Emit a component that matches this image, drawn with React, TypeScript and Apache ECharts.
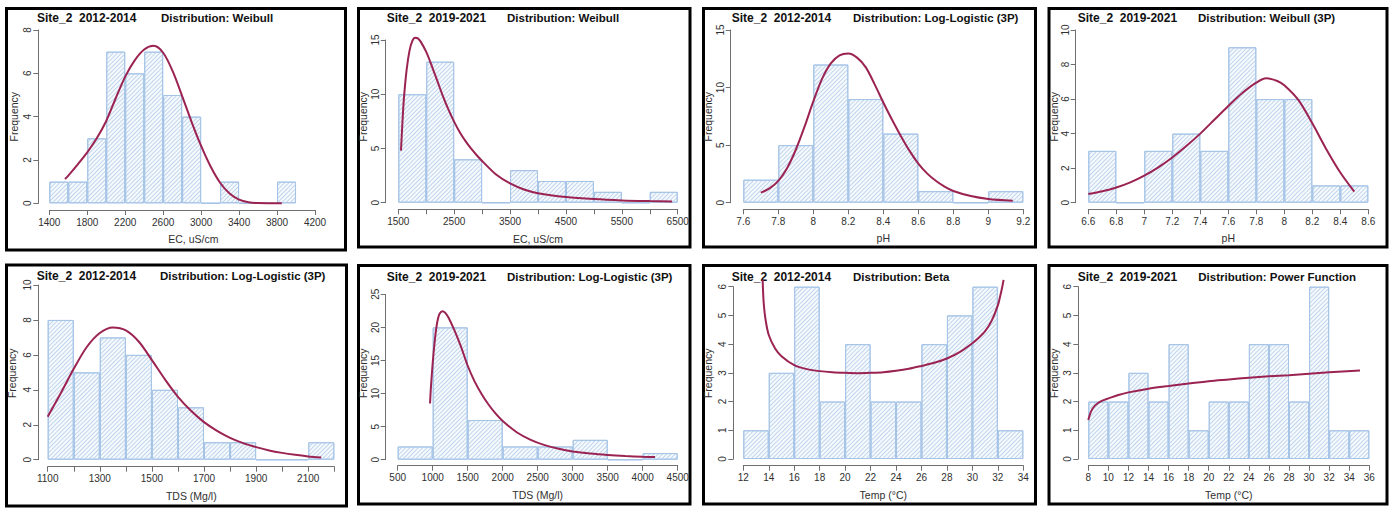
import { useEffect, useRef } from "react";
import * as echarts from "echarts";

// ---------- EC, Site_2 2012-2014 (Weibull) ----------
const ecEarlyEdges = [1400, 1600, 1800, 2000, 2200, 2400, 2600, 2800, 3000, 3200, 3400, 3600, 3800, 4000];
const ecEarlyCounts = [1, 1, 3, 7, 6, 7, 5, 4, 0, 1, 0, 0, 1];
const ecEarlyFit: [number, number][] = [
  [1565, 1.12], [1600, 1.28], [1700, 1.8], [1800, 2.35], [1900, 3.0], [2000, 3.8], [2100, 4.85],
  [2200, 5.85], [2300, 6.6], [2400, 7.1], [2500, 7.27], [2600, 6.95], [2700, 6.1], [2800, 4.95],
  [2900, 3.75], [3000, 2.65], [3100, 1.7], [3200, 0.95], [3300, 0.45], [3400, 0.17], [3500, 0.05],
  [3600, 0.01], [3850, 0],
];
const ecEarlyTicks = [1400, 1800, 2200, 2600, 3000, 3400, 3800, 4200];
const ecEarlyLabels = [1400, 1800, 2200, 2600, 3000, 3400, 3800, 4200];

// ---------- EC, Site_2 2019-2021 (Weibull) ----------
const ecLateEdges = [1500, 2000, 2500, 3000, 3500, 4000, 4500, 5000, 5500, 6000, 6500];
const ecLateCounts = [10, 13, 4, 0, 3, 2, 2, 1, 0, 1];
const ecLateFit: [number, number][] = [
  [1548, 4.8], [1575, 7.5], [1600, 9.6], [1650, 12.3], [1700, 14.0], [1750, 14.9], [1800, 15.2],
  [1850, 15.15], [1900, 14.85], [2000, 13.9], [2100, 12.6], [2200, 11.2], [2300, 9.8], [2400, 8.55],
  [2500, 7.45], [2600, 6.5], [2700, 5.7], [2800, 5.0], [2900, 4.4], [3000, 3.85], [3250, 2.6],
  [3500, 1.78], [3750, 1.22], [4000, 0.88], [4500, 0.53], [5000, 0.33], [5500, 0.21], [6000, 0.15],
  [6400, 0.12],
];
const ecLateTicks = [1500, 2000, 2500, 3000, 3500, 4000, 4500, 5000, 5500, 6000, 6500];
const ecLateLabels = [1500, 2500, 3500, 4500, 5500, 6500];

// ---------- pH, Site_2 2012-2014 (Log-Logistic 3P) ----------
const phEarlyEdges = [7.6, 7.8, 8.0, 8.2, 8.4, 8.6, 8.8, 9.0, 9.2];
const phEarlyCounts = [2, 5, 12, 9, 6, 1, 0, 1];
const phEarlyFit: [number, number][] = [
  [7.7, 0.87], [7.75, 1.25], [7.8, 1.9], [7.85, 3.0], [7.9, 4.6], [7.95, 6.6], [8.0, 8.8],
  [8.05, 10.75], [8.1, 12.1], [8.15, 12.8], [8.2, 12.95], [8.25, 12.6], [8.3, 11.75], [8.35, 10.3],
  [8.4, 8.7], [8.45, 7.2], [8.5, 5.8], [8.55, 4.5], [8.6, 3.4], [8.65, 2.55], [8.7, 1.9], [8.75, 1.4],
  [8.8, 1.02], [8.9, 0.58], [9.0, 0.33], [9.14, 0.17],
];
const phEarlyTicks = [7.6, 7.8, 8, 8.2, 8.4, 8.6, 8.8, 9, 9.2];

// ---------- pH, Site_2 2019-2021 (Weibull 3P) ----------
const phLateEdges = [6.6, 6.8, 7.0, 7.2, 7.4, 7.6, 7.8, 8.0, 8.2, 8.4, 8.6];
const phLateCounts = [3, 0, 3, 4, 3, 9, 6, 6, 1, 1];
const phLateFit: [number, number][] = [
  [6.6, 0.5], [6.7, 0.66], [6.8, 0.88], [6.9, 1.18], [7.0, 1.57], [7.1, 2.05], [7.2, 2.62],
  [7.3, 3.28], [7.4, 4.0], [7.5, 4.8], [7.6, 5.6], [7.7, 6.35], [7.8, 6.95], [7.87, 7.2],
  [7.95, 7.05], [8.0, 6.8], [8.1, 5.95], [8.2, 4.6], [8.3, 3.1], [8.4, 1.75], [8.5, 0.64],
];
const phLateTicks = [6.6, 6.8, 7, 7.2, 7.4, 7.6, 7.8, 8, 8.2, 8.4, 8.6];

// ---------- TDS, Site_2 2012-2014 (Log-Logistic 3P) ----------
const tdsEarlyEdges = [1100, 1200, 1300, 1400, 1500, 1600, 1700, 1800, 1900, 2000, 2100, 2200];
const tdsEarlyCounts = [8, 5, 7, 6, 4, 3, 1, 1, 0, 0, 1];
const tdsEarlyFit: [number, number][] = [
  [1100, 2.46], [1150, 3.8], [1200, 5.2], [1250, 6.45], [1300, 7.25], [1350, 7.57], [1400, 7.4],
  [1450, 6.75], [1500, 5.7], [1550, 4.6], [1600, 3.6], [1650, 2.8], [1700, 2.15], [1750, 1.65],
  [1800, 1.25], [1850, 0.95], [1900, 0.72], [1950, 0.53], [2000, 0.39], [2050, 0.28], [2100, 0.19],
  [2150, 0.12],
];
const tdsEarlyTicks = [1100, 1200, 1300, 1400, 1500, 1600, 1700, 1800, 1900, 2000, 2100, 2200];
const tdsEarlyLabels = [1100, 1300, 1500, 1700, 1900, 2100];

// ---------- TDS, Site_2 2019-2021 (Log-Logistic 3P) ----------
const tdsLateEdges = [500, 1000, 1500, 2000, 2500, 3000, 3500, 4000, 4500];
const tdsLateCounts = [2, 20, 6, 2, 2, 3, 0, 1];
const tdsLateFit: [number, number][] = [
  [962, 8.5], [975, 11.0], [1000, 14.6], [1025, 17.5], [1050, 19.8], [1075, 21.3], [1100, 22.1],
  [1140, 22.45], [1180, 22.2], [1225, 21.5], [1300, 19.8], [1400, 17.2], [1500, 14.2], [1600, 11.8],
  [1700, 9.9], [1800, 8.3], [1900, 6.95], [2000, 5.85], [2200, 4.15], [2400, 3.0], [2600, 2.2],
  [2800, 1.65], [3000, 1.25], [3250, 0.92], [3500, 0.7], [3750, 0.55], [4000, 0.45], [4176, 0.4],
];
const tdsLateTicks = [500, 1000, 1500, 2000, 2500, 3000, 3500, 4000, 4500];

// ---------- Temp, Site_2 2012-2014 (Beta) ----------
const tempEarlyEdges = [12, 14, 16, 18, 20, 22, 24, 26, 28, 30, 32, 34];
const tempEarlyCounts = [1, 3, 6, 2, 4, 2, 2, 4, 5, 6, 1];
const tempEarlyFit: [number, number][] = [
  [13.52, 6.24], [13.6, 5.45], [13.75, 4.85], [14.0, 4.32], [14.5, 3.85], [15.0, 3.58], [16.0, 3.27],
  [17.0, 3.13], [18.0, 3.06], [19.0, 3.02], [20.0, 3.0], [21.0, 2.99], [22.0, 3.0], [23.0, 3.02],
  [24.0, 3.07], [25.0, 3.14], [26.0, 3.24], [27.0, 3.35], [28.0, 3.5], [29.0, 3.72], [30.0, 4.03],
  [30.5, 4.22], [31.0, 4.45], [31.5, 4.8], [32.0, 5.35], [32.2, 5.7], [32.35, 6.0], [32.45, 6.24],
];
const tempEarlyTicks = [12, 14, 16, 18, 20, 22, 24, 26, 28, 30, 32, 34];

// ---------- Temp, Site_2 2019-2021 (Power Function) ----------
const tempLateEdges = [8, 10, 12, 14, 16, 18, 20, 22, 24, 26, 28, 30, 32, 34, 36];
const tempLateCounts = [2, 2, 3, 2, 4, 1, 2, 2, 4, 4, 2, 6, 1, 1];
const tempLateFit: [number, number][] = [
  [8.0, 1.36], [8.27, 1.65], [8.66, 1.86], [9.33, 2.02], [10.0, 2.11], [11.0, 2.23], [12.0, 2.32],
  [14.0, 2.45], [16.0, 2.54], [18.0, 2.63], [20.0, 2.71], [22.0, 2.77], [24.0, 2.83], [26.0, 2.88],
  [28.0, 2.92], [30.0, 2.97], [32.0, 3.02], [35.07, 3.08],
];
const tempLateTicks = [8, 10, 12, 14, 16, 18, 20, 22, 24, 26, 28, 30, 32, 34, 36];

const siteEarly = "Site_2  2012-2014";
const siteLate = "Site_2  2019-2021";

type PanelData = {
  site: string;
  dist: string;
  xName: string;
  edges: number[];
  counts: number[];
  fit: [number, number][];
  xMin: number;
  xMax: number;
  ticks: number[];
  labels: number[];
  yMax: number;
  yStep: number;
};

const panelData: PanelData[] = [
  { site: siteEarly, dist: "Distribution: Weibull", xName: "EC, uS/cm", edges: ecEarlyEdges, counts: ecEarlyCounts, fit: ecEarlyFit, xMin: 1400, xMax: 4200, ticks: ecEarlyTicks, labels: ecEarlyLabels, yMax: 8, yStep: 2 },
  { site: siteLate, dist: "Distribution: Weibull", xName: "EC, uS/cm", edges: ecLateEdges, counts: ecLateCounts, fit: ecLateFit, xMin: 1500, xMax: 6500, ticks: ecLateTicks, labels: ecLateLabels, yMax: 15, yStep: 5 },
  { site: siteEarly, dist: "Distribution: Log-Logistic (3P)", xName: "pH", edges: phEarlyEdges, counts: phEarlyCounts, fit: phEarlyFit, xMin: 7.6, xMax: 9.2, ticks: phEarlyTicks, labels: phEarlyTicks, yMax: 15, yStep: 5 },
  { site: siteLate, dist: "Distribution: Weibull (3P)", xName: "pH", edges: phLateEdges, counts: phLateCounts, fit: phLateFit, xMin: 6.6, xMax: 8.6, ticks: phLateTicks, labels: phLateTicks, yMax: 10, yStep: 2 },
  { site: siteEarly, dist: "Distribution: Log-Logistic (3P)", xName: "TDS (Mg/l)", edges: tdsEarlyEdges, counts: tdsEarlyCounts, fit: tdsEarlyFit, xMin: 1100, xMax: 2200, ticks: tdsEarlyTicks, labels: tdsEarlyLabels, yMax: 10, yStep: 2 },
  { site: siteLate, dist: "Distribution: Log-Logistic (3P)", xName: "TDS (Mg/l)", edges: tdsLateEdges, counts: tdsLateCounts, fit: tdsLateFit, xMin: 500, xMax: 4500, ticks: tdsLateTicks, labels: tdsLateTicks, yMax: 25, yStep: 5 },
  { site: siteEarly, dist: "Distribution: Beta", xName: "Temp (°C)", edges: tempEarlyEdges, counts: tempEarlyCounts, fit: tempEarlyFit, xMin: 12, xMax: 34, ticks: tempEarlyTicks, labels: tempEarlyTicks, yMax: 6, yStep: 1 },
  { site: siteLate, dist: "Distribution: Power Function", xName: "Temp (°C)", edges: tempLateEdges, counts: tempLateCounts, fit: tempLateFit, xMin: 8, xMax: 36, ticks: tempLateTicks, labels: tempLateTicks, yMax: 6, yStep: 1 },
];

// Page layout of each panel: frame, plot grid, axis offsets and text anchors (px)
type PanelLayout = {
  box: [number, number, number, number];
  grid: [number, number, number, number];
  xOff: number;
  yOff: number;
  siteX: number;
  distX: number;
  titleY: number;
  freq: [number, number];
  name: [number, number];
};

const layouts: PanelLayout[] = [
  { box: [6.5, 8.5, 345.5, 250], grid: [49.3, 30, 265.7, 173.3], xOff: 6.7, yOff: 11, siteX: 37, distX: 161, titleY: 18.3, freq: [14, 116.7], name: [193.3, 239] },
  { box: [358.5, 8.5, 690, 247], grid: [398.3, 40, 279.4, 162.7], xOff: 6.6, yOff: 12.6, siteX: 386.7, distX: 507, titleY: 18.3, freq: [363.3, 116.7], name: [538, 239] },
  { box: [703.5, 8.5, 1035.5, 247], grid: [743.3, 30, 280, 172.7], xOff: 6.6, yOff: 12.6, siteX: 731.7, distX: 853, titleY: 18.3, freq: [708.3, 116.7], name: [883.3, 238.3] },
  { box: [1049, 8.5, 1387, 247], grid: [1088.3, 30, 280, 172.7], xOff: 6.6, yOff: 12.6, siteX: 1077.7, distX: 1198, titleY: 18.3, freq: [1054, 116.7], name: [1228.3, 238.3] },
  { box: [6.5, 265, 346.5, 506], grid: [47.7, 285, 286.6, 174.7], xOff: 7, yOff: 9.4, siteX: 36.7, distX: 160, titleY: 276, freq: [11.7, 373.3], name: [191.3, 495.7] },
  { box: [358.5, 265.5, 690, 504], grid: [397.7, 294.3, 280, 165.4], xOff: 6, yOff: 12, siteX: 386.7, distX: 507, titleY: 276.5, freq: [363.3, 373.3], name: [537.7, 495] },
  { box: [703.5, 265.5, 1035.5, 504], grid: [743.3, 286.7, 280, 172.3], xOff: 6.7, yOff: 10, siteX: 731.7, distX: 853, titleY: 276.5, freq: [708.3, 373.3], name: [883.3, 495] },
  { box: [1049, 265.5, 1387, 504], grid: [1088.3, 286.7, 281, 172.3], xOff: 6.7, yOff: 10, siteX: 1077.7, distX: 1198.3, titleY: 276.5, freq: [1054, 373.3], name: [1228.8, 495] },
];

const FONT = "'Liberation Sans', Arial, Helvetica, sans-serif";
const AXIS_COLOR = "#6f6f6f";
const LABEL_COLOR = "#303030";
const CURVE_COLOR = "#9b2352";
const BAR_BORDER = "#a6c4e6";
const HATCH_COLOR = "#bfd5ee";
const BAR_FILL = "#f7fafd";

function titleText(x: number, y: number, text: string, size: number) {
  return {
    type: "text",
    x,
    y,
    silent: true,
    style: {
      text,
      fontSize: size,
      fontWeight: "bold",
      fontFamily: FONT,
      fill: "#111",
      align: "left",
      verticalAlign: "middle",
      textAlign: "left",
      textVerticalAlign: "middle",
    },
  };
}

function buildOption(): echarts.EChartsOption {
  const grid: any[] = [];
  const xAxis: any[] = [];
  const yAxis: any[] = [];
  const series: any[] = [];
  const graphics: any[] = [];

  panelData.forEach((p, i) => {
    const L = layouts[i];
    grid.push({
      left: L.grid[0],
      top: L.grid[1],
      width: L.grid[2],
      height: L.grid[3],
      containLabel: false,
      outerBoundsMode: "none",
    });
    xAxis.push({
      type: "value",
      gridIndex: i,
      min: p.xMin,
      max: p.xMax,
      offset: L.xOff,
      splitLine: { show: false },
      axisLine: { show: true, onZero: false, lineStyle: { color: AXIS_COLOR, width: 1 } },
      axisTick: { show: true, length: 5, customValues: p.ticks, lineStyle: { color: AXIS_COLOR, width: 1 } },
      axisLabel: {
        show: true,
        customValues: p.labels,
        margin: 7,
        fontSize: 10,
        color: LABEL_COLOR,
        fontFamily: FONT,
        formatter: (v: number) => String(v),
      },
    });
    yAxis.push({
      type: "value",
      gridIndex: i,
      min: 0,
      max: p.yMax,
      interval: p.yStep,
      offset: L.yOff,
      splitLine: { show: false },
      axisLine: { show: true, onZero: false, lineStyle: { color: AXIS_COLOR, width: 1 } },
      axisTick: { show: true, length: 5, lineStyle: { color: AXIS_COLOR, width: 1 } },
      axisLabel: {
        show: true,
        rotate: 90,
        margin: 5.5,
        fontSize: 10,
        color: LABEL_COLOR,
        fontFamily: FONT,
        formatter: (v: number) => String(v),
      },
    });

    const bars = p.counts.map((c, k) => [(p.edges[k] + p.edges[k + 1]) / 2, c]);
    series.push({
      type: "bar",
      xAxisIndex: i,
      yAxisIndex: i,
      data: bars,
      barWidth: "100%",
      silent: true,
      itemStyle: {
        color: BAR_FILL,
        borderColor: BAR_BORDER,
        borderWidth: 1,
        decal: {
          symbol: "rect",
          symbolSize: 1,
          color: HATCH_COLOR,
          dashArrayX: [1, 0],
          dashArrayY: [1, 2],
          rotation: -Math.PI / 4,
        },
      },
    });
    series.push({
      type: "line",
      xAxisIndex: i,
      yAxisIndex: i,
      data: p.fit,
      smooth: 0.3,
      showSymbol: false,
      clip: false,
      silent: true,
      z: 5,
      lineStyle: { color: CURVE_COLOR, width: 2 },
    });

    // frame
    graphics.push({
      type: "rect",
      silent: true,
      shape: { x: L.box[0], y: L.box[1], width: L.box[2] - L.box[0], height: L.box[3] - L.box[1] },
      style: { fill: "none", stroke: "#000", lineWidth: 3 },
    });
    // titles
    graphics.push(titleText(L.siteX, L.titleY, p.site, 12));
    graphics.push(titleText(L.distX, L.titleY, p.dist, 11.5));
    // y title
    graphics.push({
      type: "text",
      x: L.freq[0],
      y: L.freq[1],
      rotation: Math.PI / 2,
      silent: true,
      style: {
        text: "Frequency",
        fontSize: 10.5,
        fontFamily: FONT,
        fill: LABEL_COLOR,
        align: "center",
        verticalAlign: "middle",
        textAlign: "center",
        textVerticalAlign: "middle",
      },
    });
    // x title
    graphics.push({
      type: "text",
      x: L.name[0],
      y: L.name[1],
      silent: true,
      style: {
        text: p.xName,
        fontSize: 10.5,
        fontFamily: FONT,
        fill: LABEL_COLOR,
        align: "center",
        verticalAlign: "middle",
        textAlign: "center",
        textVerticalAlign: "middle",
      },
    });
  });

  return {
    animation: false,
    backgroundColor: "#ffffff",
    textStyle: { fontFamily: FONT },
    grid,
    xAxis,
    yAxis,
    series,
    graphic: { elements: graphics },
  } as any;
}

export default function App() {
  const ref = useRef<HTMLDivElement>(null);
  useEffect(() => {
    if (!ref.current) return;
    const chart = echarts.init(ref.current, undefined, { renderer: "svg" });
    chart.setOption(buildOption());
    return () => chart.dispose();
  }, []);
  return (
    <div
      ref={ref}
      style={{ position: "absolute", left: 0, top: 0, width: 1390, height: 510 }}
    />
  );
}
